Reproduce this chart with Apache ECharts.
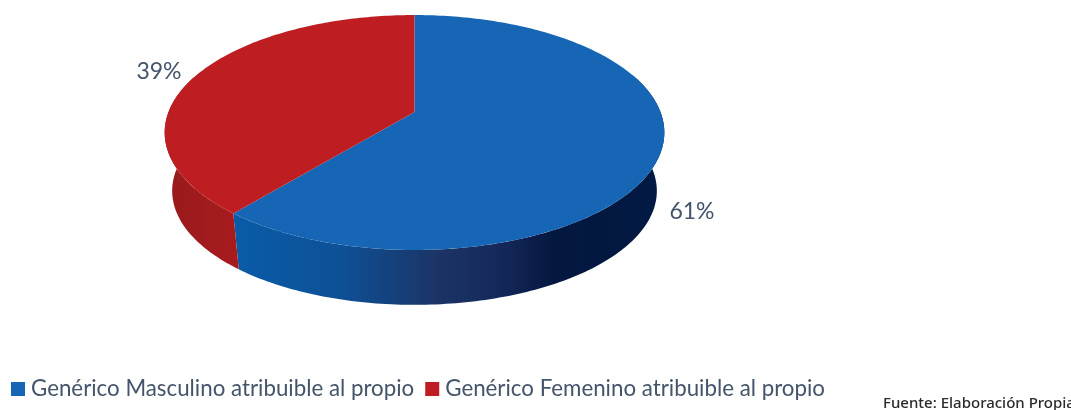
<!DOCTYPE html>
<html><head><meta charset="utf-8">
<style>html,body{margin:0;padding:0;background:#fff}#c{width:1071px;height:410px}</style>
<script src="https://cdn.jsdelivr.net/npm/echarts@6/dist/echarts.min.js"></script>
</head><body><div id="c"></div>
<script>
const categories = ['Genérico Masculino atribuible al propio', 'Genérico Femenino atribuible al propio'];
const shareValues = [61, 39];
const sourceNote = 'Fuente: Elaboración Propia';

const chart = echarts.init(document.getElementById('c'));
const total = shareValues.reduce((a, b) => a + b, 0);
const view = {cx: 414.5, apexY: 112, R: 246, A: 113.9, k: 0.1745, depth: 59, bottomScale: 0.97};
const topColors = ['#1666b5', '#be1e22'];
const sideColors = [
  [[0, '#0a5ca8'], [0.25, '#0e5096'], [0.47, '#1b3566'], [0.62, '#15285a'], [0.75, '#04173f'], [1, '#021a44']],
  [[0, '#981a1c'], [1, '#a81b1e']]
];
const labelAnchors = [[692, 212], [159, 72]];

function project(deg, scale, dy) {
  const t = deg * Math.PI / 180, u = Math.sin(t), v = Math.cos(t), w = 1 + view.k * v;
  return [view.cx + scale * view.R * u / w, view.apexY + dy - scale * view.A * v / w];
}
function arc(a, b, scale, dy) {
  const n = Math.max(2, Math.ceil(Math.abs(b - a)));
  const pts = [];
  for (let i = 0; i <= n; i++) pts.push(project(a + (b - a) * i / n, scale, dy));
  return pts;
}
function renderSlice(index) {
  return function (params, api) {
    const before = shareValues.slice(0, index).reduce((a, b) => a + b, 0);
    const start = before / total * 360, end = start + api.value(0) / total * 360;
    const a = Math.max(start, 70), b = Math.min(end, 290);
    const children = [];
    if (b > a) {
      children.push({
        type: 'polygon', z2: 1,
        shape: {points: arc(a, b, 1, 0).concat(arc(b, a, view.bottomScale, view.depth))},
        style: {fill: new echarts.graphic.LinearGradient(0, 0, 1, 0,
          sideColors[index].map(s => ({offset: s[0], color: s[1]})))}
      });
    }
    children.push({
      type: 'polygon', z2: 2,
      shape: {points: [[view.cx, view.apexY]].concat(arc(start, end, 1, 0))},
      style: {fill: topColors[index]}
    });
    children.push({
      type: 'text', z2: 3,
      style: {
        x: labelAnchors[index][0], y: labelAnchors[index][1],
        text: api.value(0) + '%', align: 'center', verticalAlign: 'middle',
        fill: '#44546a', font: '23px Lato'
      }
    });
    return {type: 'group', children};
  };
}
const series = categories.map((name, i) => ({
  type: 'custom', name, coordinateSystem: 'none',
  itemStyle: {color: topColors[i]},
  renderItem: renderSlice(i),
  data: [[shareValues[i]]],
  silent: true, animation: false
}));
chart.setOption({
  animation: false,
  backgroundColor: '#fff',
  legend: {
    data: categories, left: 6, top: 373, itemWidth: 14, itemHeight: 14, itemGap: 11,
    icon: 'rect', selectedMode: false,
    textStyle: {color: '#44546a', fontFamily: 'Lato', fontSize: 22.3, padding: [0, 0, 0, 1]}
  },
  title: {
    text: sourceNote, left: 878, top: 391,
    textStyle: {color: '#2a2a2a', fontFamily: 'Noto Sans', fontSize: 15, fontWeight: 500}
  },
  series
});
</script></body></html>
